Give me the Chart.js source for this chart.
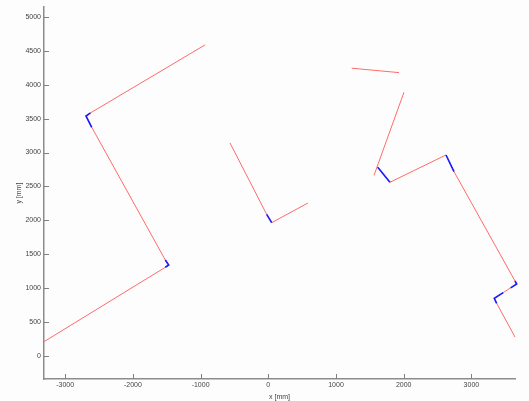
<!DOCTYPE html>
<html lang="en">
<head>
<meta charset="UTF-8" />
<title>Trajectory x / y</title>
<script src="https://cdn.jsdelivr.net/npm/chart.js"></script>
<style>
  html, body { margin: 0; padding: 0; background: #fdfdfd; }
  #wrap { width: 529px; height: 401px; }
</style>
</head>
<body>
<div id="wrap"><canvas id="traj"></canvas></div>
<script>
// axis ticks (mm)
const xTicks = [-3000, -2000, -1000, 0, 1000, 2000, 3000];
const yTicks = [0, 500, 1000, 1500, 2000, 2500, 3000, 3500, 4000, 4500, 5000];

// red paths
const redA_x = [-3313, -1521, -1471, -1521, -2608, -2693, -2626, -935];
const redA_y = [207, 1306, 1340, 1413, 3373, 3540, 3585, 4589];
const redB_x = [-566, -24, 50, 586];
const redB_y = [3142, 2088, 1964, 2255];
const redC_x = [1232, 1930];
const redC_y = [4245, 4180];
const redD_x = [2004, 1561];
const redD_y = [3890, 2662];
const redE_x = [1616, 1797, 2625, 2743, 3644, 3669, 3338, 3373, 3644];
const redE_y = [2783, 2561, 2964, 2718, 1103, 1059, 848, 774, 276];

// blue corner pieces
const blue1_x = [-1521, -1471, -1521];
const blue1_y = [1306, 1340, 1413];
const blue2_x = [-2608, -2693, -2626];
const blue2_y = [3373, 3540, 3585];
const blue3_x = [-24, 50];
const blue3_y = [2088, 1964];
const blue4_x = [1616, 1797];
const blue4_y = [2783, 2561];
const blue5_x = [2625, 2743];
const blue5_y = [2964, 2718];
const blue6_x = [3644, 3669, 3580];
const blue6_y = [1103, 1059, 1002];
const blue7_x = [3470, 3338, 3373];
const blue7_y = [932, 848, 774];

const pts = (xs, ys) => xs.map((x, i) => ({ x: x, y: ys[i] }));

const line = (xs, ys, color, width, order) => ({
  data: pts(xs, ys),
  showLine: true,
  borderColor: color,
  borderWidth: width,
  pointRadius: 0,
  fill: false,
  clip: false,
  order: order
});

const blues = [
  [blue1_x, blue1_y], [blue2_x, blue2_y], [blue3_x, blue3_y], [blue4_x, blue4_y],
  [blue5_x, blue5_y], [blue6_x, blue6_y], [blue7_x, blue7_y]
].map(p => line(p[0], p[1], '#1a1aff', 1.6, 0));

const reds = [
  [redA_x, redA_y], [redB_x, redB_y], [redC_x, redC_y], [redD_x, redD_y], [redE_x, redE_y]
].map(p => line(p[0], p[1], '#ff6a6a', 1, 1));

// matlab style ticks pointing into the plot
const inwardTicks = {
  id: 'inwardTicks',
  afterDraw(chart) {
    const { ctx, chartArea, scales } = chart;
    ctx.save();
    ctx.strokeStyle = '#808080';
    ctx.lineWidth = 1;
    ctx.beginPath();
    scales.x.ticks.forEach(t => {
      const px = Math.round(scales.x.getPixelForValue(t.value)) + 0.5;
      ctx.moveTo(px, chartArea.bottom);
      ctx.lineTo(px, chartArea.bottom - 5);
    });
    scales.y.ticks.forEach(t => {
      const py = Math.round(scales.y.getPixelForValue(t.value)) + 0.5;
      ctx.moveTo(chartArea.left, py);
      ctx.lineTo(chartArea.left + 5, py);
    });
    ctx.stroke();
    ctx.restore();
  }
};

const tickFont = { family: 'Liberation Sans', size: 7 };

new Chart(document.getElementById('traj'), {
  type: 'scatter',
  data: { datasets: blues.concat(reds) },
  plugins: [inwardTicks],
  options: {
    responsive: true,
    maintainAspectRatio: false,
    animation: false,
    layout: { padding: { left: 0, right: 14, top: 7, bottom: 0 } },
    plugins: { legend: { display: false }, tooltip: { enabled: false } },
    scales: {
      x: {
        type: 'linear',
        min: -3313,
        max: 3644,
        afterBuildTicks: s => { s.ticks = xTicks.map(v => ({ value: v })); },
        afterFit: s => { s.height = 22; },
        grid: { display: false, drawTicks: false },
        border: { display: true, color: '#8c8c8c', width: 1.5 },
        ticks: { color: '#444', font: tickFont, padding: 2, maxRotation: 0, callback: v => v },
        title: { display: true, text: 'x [mm]', color: '#444', font: tickFont, padding: { top: 1, bottom: 0 } }
      },
      y: {
        type: 'linear',
        min: -344,
        max: 5146,
        afterBuildTicks: s => { s.ticks = yTicks.map(v => ({ value: v })); },
        afterFit: s => { s.width = 44; },
        grid: { display: false, drawTicks: false },
        border: { display: true, color: '#8c8c8c', width: 1.5 },
        ticks: { color: '#444', font: tickFont, padding: 3, callback: v => v },
        title: { display: true, text: 'y [mm]', color: '#444', font: tickFont, padding: { top: 15, bottom: 0 } }
      }
    }
  }
});
</script>
</body>
</html>
